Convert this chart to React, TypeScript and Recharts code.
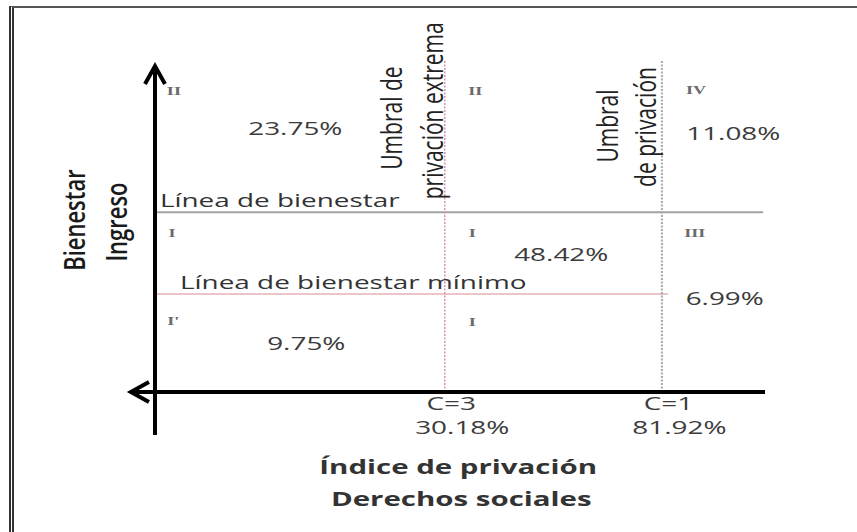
import React from 'react';
import { ScatterChart, Scatter, XAxis, YAxis, ReferenceLine } from 'recharts';

// ---------- DATA (diagram units: x = position on deprivation axis, 0 at income axis, 100 at its end;
// y = position on income axis, 0 at deprivation axis, 100 at arrow tip) ----------
const quadrantLabels = ['II', 'II', 'IV', 'I', 'I', 'III', "I'", 'I'];
const quadrantX = [3.1, 52.5, 88.7, 2.8, 52.0, 88.5, 3.0, 52.0];
const quadrantY = [90.0, 90.0, 90.3, 47.0, 47.0, 47.0, 20.3, 20.0];

const shareLabels = ['23.75%', '11.08%', '48.42%', '6.99%', '9.75%'];
const shareX = [23.0, 94.8, 66.6, 93.4, 24.8];
const shareY = [77.9, 76.4, 39.7, 26.4, 12.7];

const thresholdCodes = ['C=3', 'C=1'];
const thresholdShares = ['30.18%', '81.92%'];
const thresholdX = [47.5, 83.1];
const thresholdTop = 100.6;
const thresholdTitles = ['Umbral de', 'privación extrema', 'Umbral', 'de privación'];
const thresholdTitleX = [38.6, 45.3, 74.1, 80.3];
const thresholdTitleY = [83.0, 85.2, 80.6, 80.3];

const welfareLabels = ['Línea de bienestar', 'Línea de bienestar mínimo'];
const welfareY = [54.5, 29.7];
const welfareStartX = 0.3;
const welfareEndX = [99.7, 84.1];
const welfareLabelX = [0.8, 4.1];

const xTitles = ['Índice de privación', 'Derechos sociales'];
const xTitleX = [49.7, 50.2];
const xTitleY = [-24.8, -34.5];
const yTitles = ['Bienestar', 'Ingreso'];
const yTitleX = [-13.3, -6.4];
const yTitleY = [52.1, 51.5];

const axisXStart = -4.6; // arrow tip of deprivation axis
const axisYStart = -13.0; // lower end of income axis
const axisEnd = 100;

// ---------- LAYOUT ----------
const W = 857;
const H = 532;
const AX = { left: 155, right: 765, top: 62, bottom: 392 };
const xPerPx = 100 / (AX.right - AX.left);
const yPerPx = 100 / (AX.bottom - AX.top);
const X_DOMAIN: [number, number] = [-AX.left * xPerPx, (W - AX.left) * xPerPx];
const Y_DOMAIN: [number, number] = [-(H - AX.bottom) * yPerPx, AX.bottom * yPerPx];
const FONT = '"Open Sans", "DejaVu Sans", sans-serif';

const quadrantData = quadrantLabels.map((label, i) => ({ x: quadrantX[i], y: quadrantY[i], label }));
const shareData = shareLabels.map((label, i) => ({ x: shareX[i], y: shareY[i], label }));
const thresholdData = thresholdCodes.map((code, i) => ({ x: thresholdX[i], y: 0, code, share: thresholdShares[i] }));
const thresholdTitleData = thresholdTitles.map((label, i) => ({ x: thresholdTitleX[i], y: thresholdTitleY[i], label }));
const welfareLabelData = welfareLabels.map((label, i) => ({ x: welfareLabelX[i], y: welfareY[i], label }));
const xTitleData = xTitles.map((label, i) => ({ x: xTitleX[i], y: xTitleY[i], label }));
const yTitleData = yTitles.map((label, i) => ({ x: yTitleX[i], y: yTitleY[i], label }));

type TextStyle = {
  size: number;
  weight?: number;
  fill: string;
  family?: string;
  sx: number;
  rotate?: boolean;
  anchor?: 'start' | 'middle' | 'end';
  dx?: number;
  dy?: number;
  baseline?: 'alphabetic' | 'central';
};

function textShape(style: TextStyle) {
  return (props: any) => {
    const { cx, cy, payload } = props;
    if (cx == null || cy == null) return <g />;
    const t = `translate(${cx + (style.dx ?? 0)},${cy + (style.dy ?? 0)}) scale(${style.sx},1)${style.rotate ? ' rotate(-90)' : ''}`;
    return (
      <text
        transform={t}
        textAnchor={style.anchor ?? 'middle'}
        dominantBaseline={style.baseline ?? 'alphabetic'}
        fontFamily={style.family ?? FONT}
        fontSize={style.size}
        fontWeight={style.weight ?? 400}
        fill={style.fill}
      >
        {payload.label}
      </text>
    );
  };
}

const thresholdLabelShape = (props: any) => {
  const { cx, cy, payload } = props;
  if (cx == null || cy == null) return <g />;
  return (
    <g fontFamily={FONT} fontSize={18} fill="#3c3c3c" textAnchor="middle">
      <text transform={`translate(${cx + 6.5},${cy + 18}) scale(1.55,1)`}>{payload.code}</text>
      <text transform={`translate(${cx + 17.5},${cy + 42}) scale(1.55,1)`}>{payload.share}</text>
    </g>
  );
};

const ArrowLine = (props: any) => {
  const { x1, y1, x2, y2 } = props;
  const ang = Math.atan2(y2 - y1, x2 - x1);
  const ux = Math.cos(ang);
  const uy = Math.sin(ang);
  const tipX = x2 - 4 * ux;
  const tipY = y2 - 4 * uy;
  const len = 18;
  const half = 10;
  const bx = tipX - len * ux;
  const by = tipY - len * uy;
  const px = -uy * half;
  const py = ux * half;
  return (
    <g>
      <line x1={x1} y1={y1} x2={tipX - 1 * ux} y2={tipY - 1 * uy} stroke="#000" strokeWidth={4} />
      <path
        d={`M${bx + px},${by + py} L${tipX},${tipY} L${bx - px},${by - py}`}
        fill="none"
        stroke="#000"
        strokeWidth={4}
        strokeLinejoin="miter"
      />
    </g>
  );
};

export default function App() {
  return (
    <div style={{ position: 'fixed', left: 0, top: 0, width: W, height: H, background: '#fff', overflow: 'hidden' }}>
      <div
        style={{
          position: 'absolute',
          left: 9,
          top: 6,
          width: 900,
          height: 600,
          borderLeft: '5px double #333',
          borderTop: '2px solid #555',
          pointerEvents: 'none',
        }}
      />
      <div style={{ position: 'absolute', left: 0, top: 0 }}>
        <ScatterChart width={W} height={H} margin={{ top: 0, right: 0, bottom: 0, left: 0 }}>
          <XAxis type="number" dataKey="x" domain={X_DOMAIN} allowDataOverflow hide />
          <YAxis type="number" dataKey="y" domain={Y_DOMAIN} allowDataOverflow hide />

          {/* welfare lines */}
          <ReferenceLine
            segment={[{ x: welfareStartX, y: welfareY[0] }, { x: welfareEndX[0], y: welfareY[0] }]}
            stroke="#a3a3a3"
            strokeWidth={2}
            ifOverflow="visible"
          />
          <ReferenceLine
            segment={[{ x: welfareStartX, y: welfareY[1] }, { x: welfareEndX[1], y: welfareY[1] }]}
            stroke="#d98c98"
            strokeWidth={1.2}
            ifOverflow="visible"
          />

          {/* threshold lines */}
          <ReferenceLine
            segment={[{ x: thresholdX[0], y: 0 }, { x: thresholdX[0], y: thresholdTop }]}
            stroke="#d994aa"
            strokeWidth={1.5}
            strokeDasharray="2 1.5"
            ifOverflow="visible"
          />
          <ReferenceLine
            segment={[{ x: thresholdX[1], y: 0 }, { x: thresholdX[1], y: thresholdTop }]}
            stroke="#a9a9a9"
            strokeWidth={2}
            strokeDasharray="2 1.5"
            ifOverflow="visible"
          />

          {/* axes with arrows */}
          <ReferenceLine
            segment={[{ x: 0, y: axisYStart }, { x: 0, y: axisEnd }]}
            ifOverflow="visible"
            shape={ArrowLine}
          />
          <ReferenceLine
            segment={[{ x: axisEnd, y: 0 }, { x: axisXStart, y: 0 }]}
            ifOverflow="visible"
            shape={ArrowLine}
          />

          <Scatter
            data={quadrantData}
            isAnimationActive={false}
            shape={textShape({ size: 12.5, weight: 700, fill: '#6a6a6a', family: '"Liberation Serif", serif', sx: 1.45 })}
          />
          <Scatter data={shareData} isAnimationActive={false} shape={textShape({ size: 18, fill: '#3c3c3c', sx: 1.55 })} />
          <Scatter
            data={welfareLabelData}
            isAnimationActive={false}
            shape={textShape({ size: 18, fill: '#333', sx: 1.55, anchor: 'start', dy: -5 })}
          />
          <Scatter data={thresholdData} isAnimationActive={false} shape={thresholdLabelShape} />
          <Scatter
            data={thresholdTitleData}
            isAnimationActive={false}
            shape={textShape({ size: 21, fill: '#222', sx: 1.35, rotate: true, baseline: 'central' })}
          />
          <Scatter
            data={yTitleData}
            isAnimationActive={false}
            shape={textShape({ size: 22, weight: 600, fill: '#1a1a1a', sx: 1.3, rotate: true, baseline: 'central' })}
          />
          <Scatter
            data={xTitleData}
            isAnimationActive={false}
            shape={textShape({ size: 19, weight: 700, fill: '#333', sx: 1.55 })}
          />
        </ScatterChart>
      </div>
    </div>
  );
}
